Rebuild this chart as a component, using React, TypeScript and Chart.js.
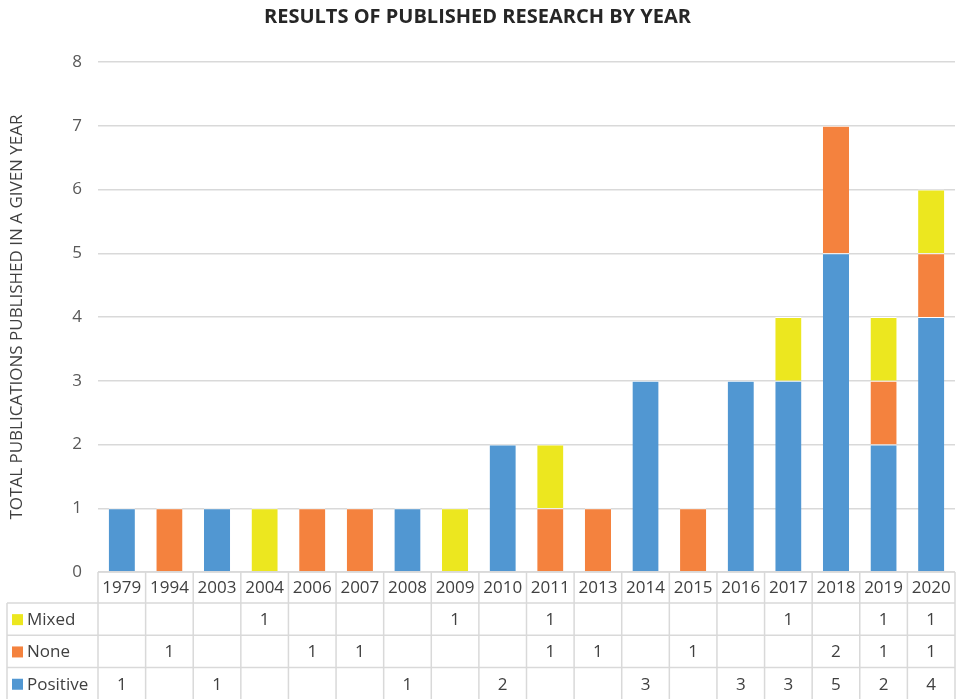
import React, { useEffect, useRef } from "react";
import { Chart, registerables } from "chart.js";

Chart.register(...registerables);

const years = ["1979", "1994", "2003", "2004", "2006", "2007", "2008", "2009", "2010", "2011", "2013", "2014", "2015", "2016", "2017", "2018", "2019", "2020"];
const positive = [1, null, 1, null, null, null, 1, null, 2, null, null, 3, null, 3, 3, 5, 2, 4];
const none = [null, 1, null, null, 1, 1, null, null, null, 1, 1, null, 1, null, null, 2, 1, 1];
const mixed = [null, null, null, 1, null, null, null, 1, null, 1, null, null, null, null, 1, null, 1, 1];
const seriesNames = ["Positive", "None", "Mixed"];
const seriesColors = ["#5197D2", "#F4823E", "#ECE71F"];
const tableRowOrder = [2, 1, 0]; // Mixed, None, Positive

const FONT = "'Open Sans', sans-serif";

const tablePlugin = {
  id: "dataTable",
  afterDraw(chart: any) {
    const ctx = chart.ctx;
    const x = chart.scales.x;
    const area = chart.chartArea;
    const n = years.length;
    const colW = (area.right - area.left) / n;
    const top = area.bottom;
    const headerH = 31;
    const rowH = 32.3;
    const legendLeft = 7;
    const bottom = chart.height;
    ctx.save();
    ctx.strokeStyle = "#D9D9D9";
    ctx.lineWidth = 1.5;
    ctx.beginPath();
    ctx.moveTo(area.left, top);
    ctx.lineTo(area.right, top);
    for (let r = 0; r < 3; r++) {
      const y = top + headerH + r * rowH;
      ctx.moveTo(legendLeft, y);
      ctx.lineTo(area.right, y);
    }
    for (let i = 0; i <= n; i++) {
      const xx = area.left + i * colW;
      ctx.moveTo(xx, top);
      ctx.lineTo(xx, bottom);
    }
    ctx.moveTo(legendLeft, top + headerH);
    ctx.lineTo(legendLeft, bottom);
    ctx.stroke();

    ctx.fillStyle = "#404040";
    ctx.font = `17px ${FONT}`;
    ctx.textAlign = "center";
    ctx.textBaseline = "middle";
    for (let i = 0; i < n; i++) {
      const cx = x.getPixelForValue(i);
      ctx.fillText(years[i], cx, top + headerH / 2 + 1);
    }
    const datasets = chart.data.datasets;
    tableRowOrder.forEach((di, r) => {
      const cy = top + headerH + r * rowH + rowH / 2 + 1;
      const ds = datasets[di];
      ctx.fillStyle = "#404040";
      ctx.textAlign = "center";
      for (let i = 0; i < n; i++) {
        const v = ds.data[i];
        if (v !== null && v !== undefined) {
          ctx.fillText(String(v), x.getPixelForValue(i), cy);
        }
      }
      ctx.fillStyle = seriesColors[di];
      ctx.fillRect(12, cy - 6, 11, 11);
      ctx.fillStyle = "#404040";
      ctx.textAlign = "left";
      ctx.fillText(seriesNames[di], 27, cy);
    });
    ctx.restore();
  },
};

export default function App() {
  const ref = useRef<HTMLCanvasElement | null>(null);
  useEffect(() => {
    if (!ref.current) return;
    const chart = new Chart(ref.current, {
      type: "bar",
      data: {
        labels: years,
        datasets: [positive, none, mixed].map((d, i) => ({
          label: seriesNames[i],
          data: d as any,
          backgroundColor: seriesColors[i],
          borderColor: "#FFFFFF",
          borderWidth: { top: 1, bottom: 0, left: 0, right: 0 } as any,
          borderSkipped: false,
          categoryPercentage: 1,
          barPercentage: 0.55,
        })),
      },
      options: {
        animation: false,
        responsive: false,
        layout: { padding: { left: 0, right: 7, top: 0, bottom: 127 } },
        plugins: {
          legend: { display: false },
          tooltip: { enabled: false },
          title: {
            display: true,
            text: "RESULTS OF PUBLISHED RESEARCH BY YEAR",
            color: "#262626",
            font: { family: FONT, size: 20, weight: "bold" },
            padding: { top: 5, bottom: 33 },
          },
        },
        scales: {
          x: {
            stacked: true,
            display: false,
          },
          y: {
            stacked: true,
            min: 0,
            max: 8,
            ticks: {
              stepSize: 1,
              color: "#595959",
              font: { family: FONT, size: 17 },
              padding: 16,
            },
            grid: { color: "#D9D9D9", lineWidth: 1.5, drawTicks: false },
            border: { display: false },
            title: {
              display: true,
              text: "TOTAL PUBLICATIONS PUBLISHED IN A GIVEN YEAR",
              color: "#404040",
              font: { family: FONT, size: 17 },
              padding: { top: 7, bottom: 0 },
            },
            afterFit(scale: any) {
              scale.width = 98;
            },
          },
        },
      },
      plugins: [tablePlugin],
    });
    return () => chart.destroy();
  }, []);
  return (
    <div style={{ position: "fixed", left: 0, top: 0, width: 962, height: 699, background: "#fff" }}>
      <canvas ref={ref} width={962} height={699} style={{ display: "block" }} />
    </div>
  );
}
